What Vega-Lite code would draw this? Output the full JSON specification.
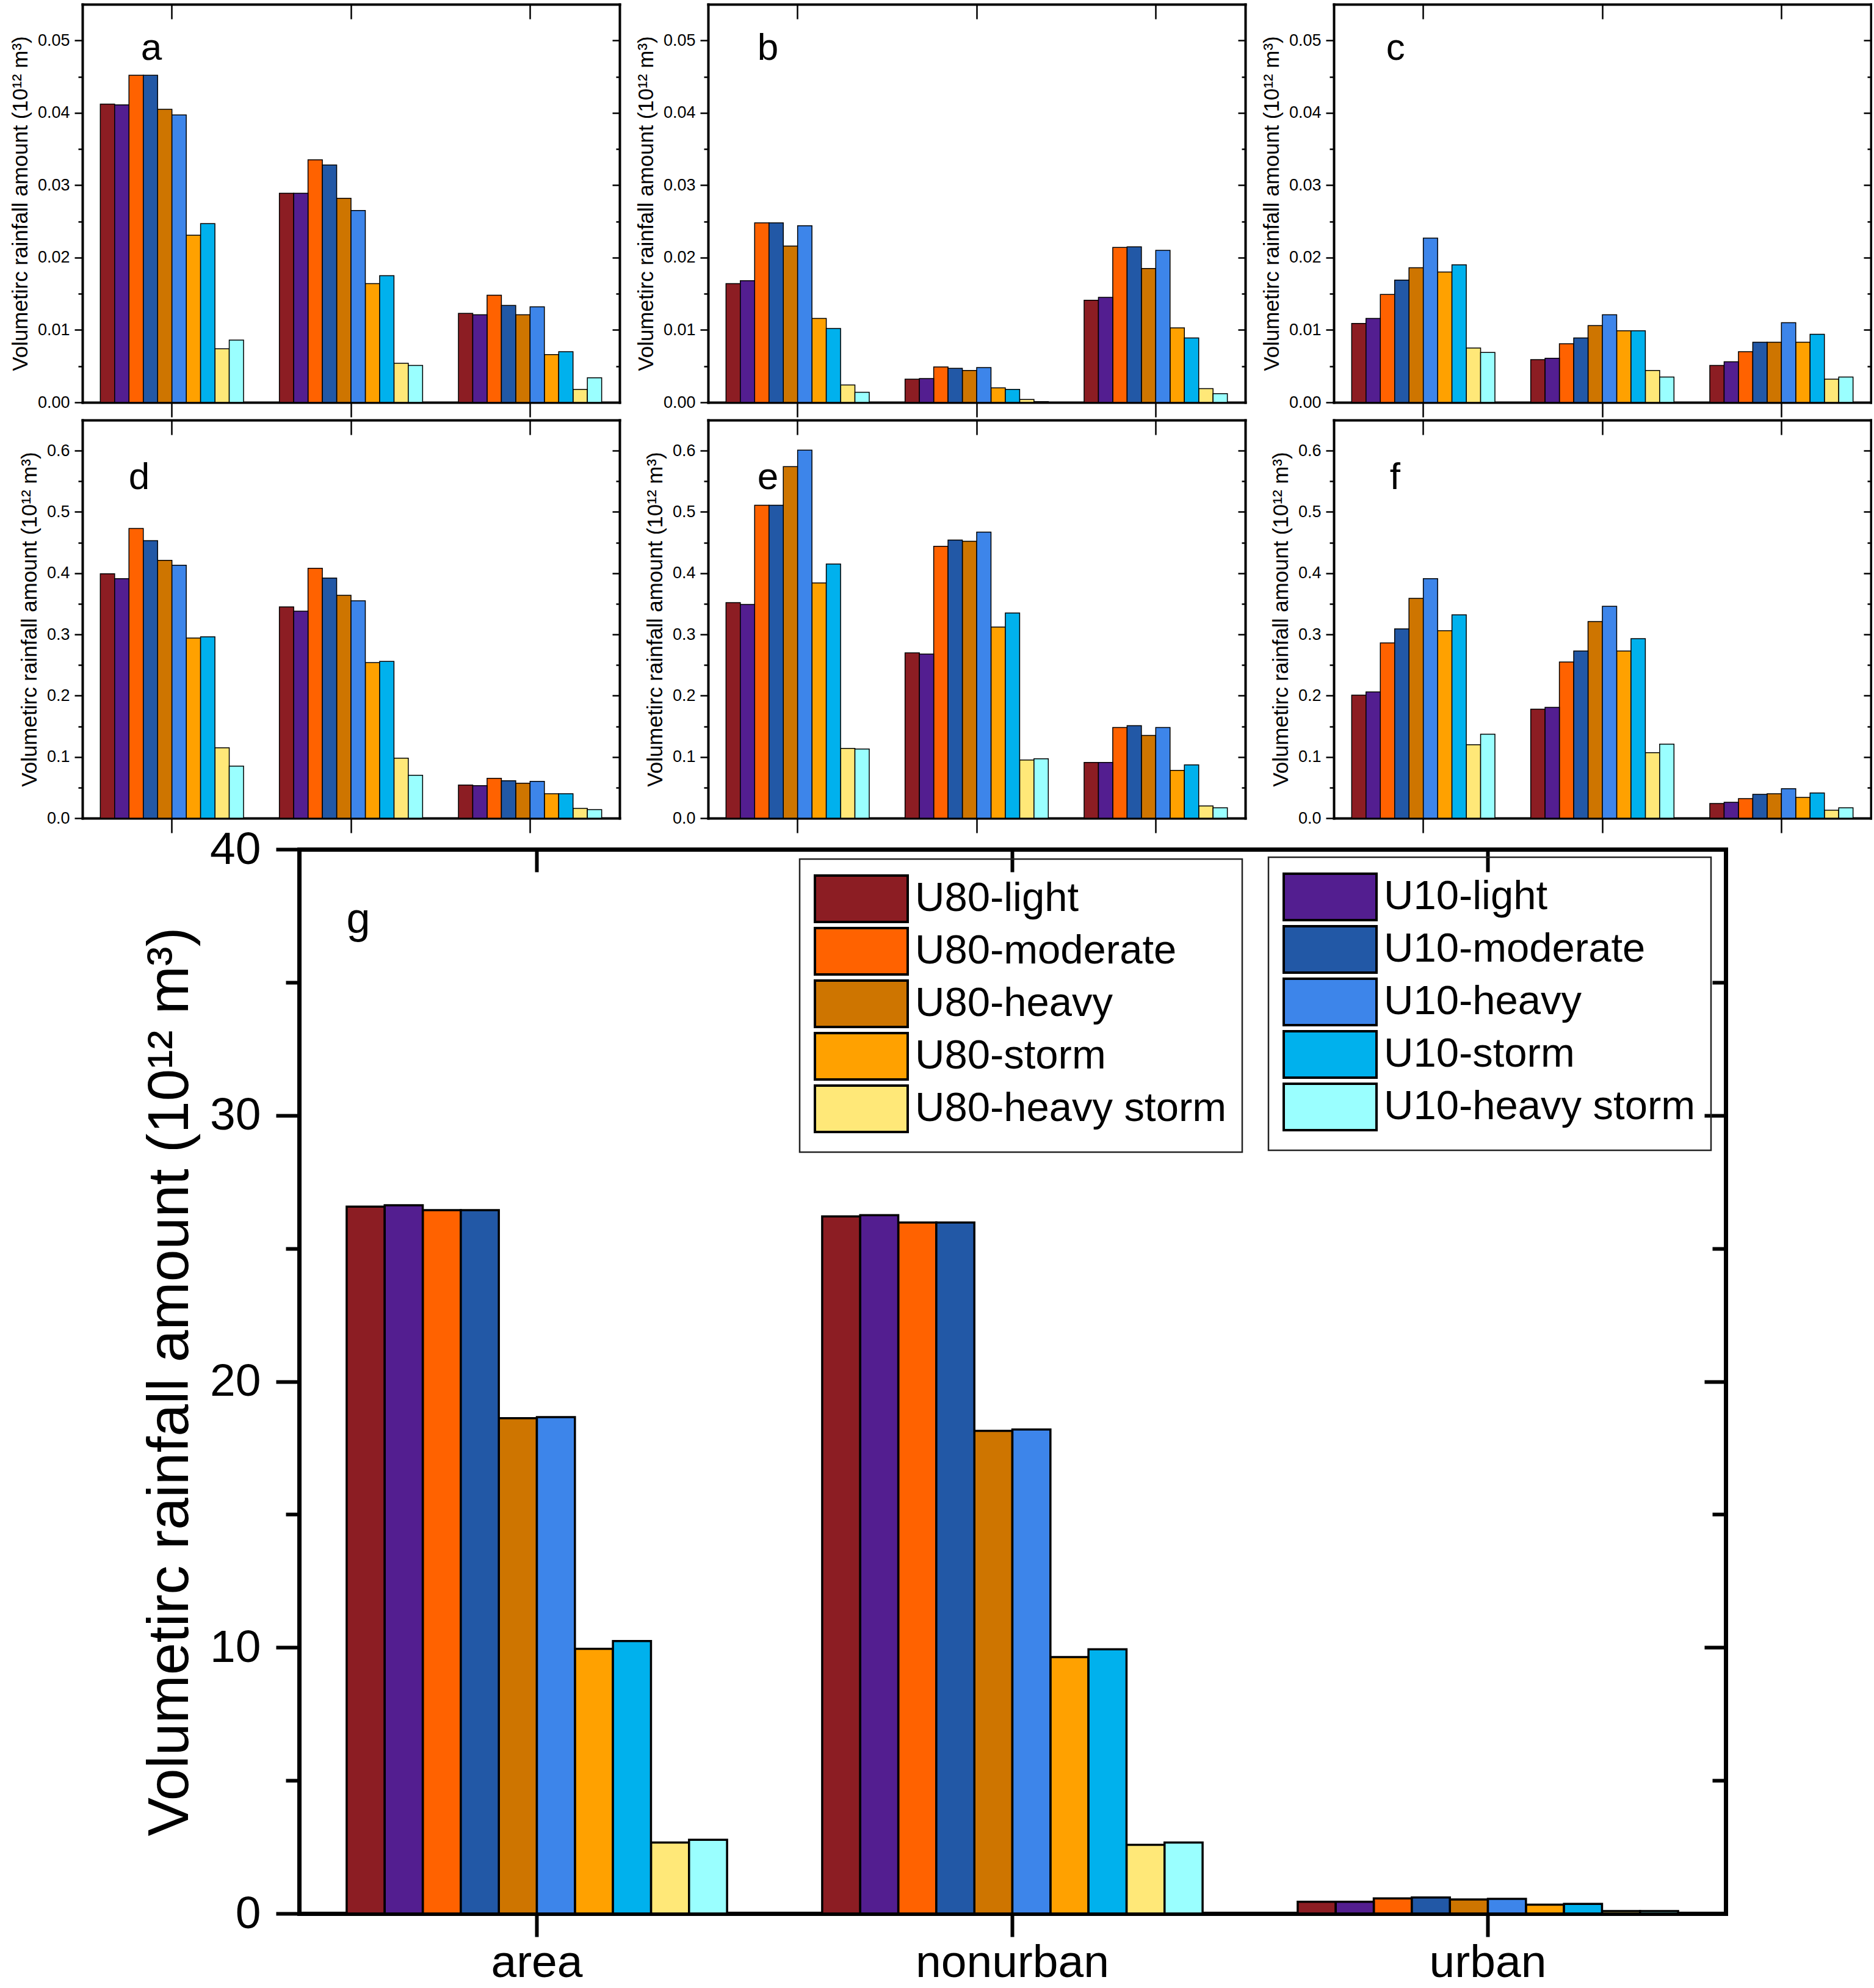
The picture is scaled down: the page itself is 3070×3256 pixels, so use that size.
{
  "$schema": "https://vega.github.io/schema/vega-lite/v6.json",
  "padding": {"left": 16, "top": 5, "right": 0, "bottom": 0},
  "background": "white",
  "config": {
    "view": {"stroke": null},
    "font": "Liberation Sans",
    "axis": {"labelFont": "Liberation Sans", "titleFont": "Liberation Sans", "grid": false, "domainColor": "black", "tickColor": "black", "labelColor": "black", "titleColor": "black", "titleFontWeight": "normal", "domainCap": "square"},
    "legend": {"labelFont": "Liberation Sans", "labelColor": "black", "strokeWidth": 2.5},
    "text": {"font": "Liberation Sans", "color": "black", "align": "left", "baseline": "alphabetic"}
  },
  "data": {"values": [
    {"panel":"a","region":"area","series":"U80-light","value":0.0412},
    {"panel":"a","region":"area","series":"U10-light","value":0.0411},
    {"panel":"a","region":"area","series":"U80-moderate","value":0.0452},
    {"panel":"a","region":"area","series":"U10-moderate","value":0.0452},
    {"panel":"a","region":"area","series":"U80-heavy","value":0.0405},
    {"panel":"a","region":"area","series":"U10-heavy","value":0.0397},
    {"panel":"a","region":"area","series":"U80-storm","value":0.0231},
    {"panel":"a","region":"area","series":"U10-storm","value":0.0247},
    {"panel":"a","region":"area","series":"U80-heavy storm","value":0.0074},
    {"panel":"a","region":"area","series":"U10-heavy storm","value":0.0086},
    {"panel":"a","region":"nonurban","series":"U80-light","value":0.0289},
    {"panel":"a","region":"nonurban","series":"U10-light","value":0.0289},
    {"panel":"a","region":"nonurban","series":"U80-moderate","value":0.0335},
    {"panel":"a","region":"nonurban","series":"U10-moderate","value":0.0328},
    {"panel":"a","region":"nonurban","series":"U80-heavy","value":0.0282},
    {"panel":"a","region":"nonurban","series":"U10-heavy","value":0.0265},
    {"panel":"a","region":"nonurban","series":"U80-storm","value":0.0164},
    {"panel":"a","region":"nonurban","series":"U10-storm","value":0.0175},
    {"panel":"a","region":"nonurban","series":"U80-heavy storm","value":0.0054},
    {"panel":"a","region":"nonurban","series":"U10-heavy storm","value":0.0051},
    {"panel":"a","region":"urban","series":"U80-light","value":0.0123},
    {"panel":"a","region":"urban","series":"U10-light","value":0.0121},
    {"panel":"a","region":"urban","series":"U80-moderate","value":0.0148},
    {"panel":"a","region":"urban","series":"U10-moderate","value":0.0134},
    {"panel":"a","region":"urban","series":"U80-heavy","value":0.0121},
    {"panel":"a","region":"urban","series":"U10-heavy","value":0.0132},
    {"panel":"a","region":"urban","series":"U80-storm","value":0.0066},
    {"panel":"a","region":"urban","series":"U10-storm","value":0.0070},
    {"panel":"a","region":"urban","series":"U80-heavy storm","value":0.0018},
    {"panel":"a","region":"urban","series":"U10-heavy storm","value":0.0034},
    {"panel":"b","region":"area","series":"U80-light","value":0.0164},
    {"panel":"b","region":"area","series":"U10-light","value":0.0168},
    {"panel":"b","region":"area","series":"U80-moderate","value":0.0248},
    {"panel":"b","region":"area","series":"U10-moderate","value":0.0248},
    {"panel":"b","region":"area","series":"U80-heavy","value":0.0216},
    {"panel":"b","region":"area","series":"U10-heavy","value":0.0244},
    {"panel":"b","region":"area","series":"U80-storm","value":0.0116},
    {"panel":"b","region":"area","series":"U10-storm","value":0.0102},
    {"panel":"b","region":"area","series":"U80-heavy storm","value":0.0024},
    {"panel":"b","region":"area","series":"U10-heavy storm","value":0.0014},
    {"panel":"b","region":"nonurban","series":"U80-light","value":0.0032},
    {"panel":"b","region":"nonurban","series":"U10-light","value":0.0033},
    {"panel":"b","region":"nonurban","series":"U80-moderate","value":0.0049},
    {"panel":"b","region":"nonurban","series":"U10-moderate","value":0.0047},
    {"panel":"b","region":"nonurban","series":"U80-heavy","value":0.0044},
    {"panel":"b","region":"nonurban","series":"U10-heavy","value":0.0048},
    {"panel":"b","region":"nonurban","series":"U80-storm","value":0.0020},
    {"panel":"b","region":"nonurban","series":"U10-storm","value":0.0018},
    {"panel":"b","region":"nonurban","series":"U80-heavy storm","value":0.0004},
    {"panel":"b","region":"nonurban","series":"U10-heavy storm","value":0.0001},
    {"panel":"b","region":"urban","series":"U80-light","value":0.0141},
    {"panel":"b","region":"urban","series":"U10-light","value":0.0145},
    {"panel":"b","region":"urban","series":"U80-moderate","value":0.0214},
    {"panel":"b","region":"urban","series":"U10-moderate","value":0.0215},
    {"panel":"b","region":"urban","series":"U80-heavy","value":0.0185},
    {"panel":"b","region":"urban","series":"U10-heavy","value":0.0210},
    {"panel":"b","region":"urban","series":"U80-storm","value":0.0103},
    {"panel":"b","region":"urban","series":"U10-storm","value":0.0089},
    {"panel":"b","region":"urban","series":"U80-heavy storm","value":0.0019},
    {"panel":"b","region":"urban","series":"U10-heavy storm","value":0.0012},
    {"panel":"c","region":"area","series":"U80-light","value":0.0109},
    {"panel":"c","region":"area","series":"U10-light","value":0.0116},
    {"panel":"c","region":"area","series":"U80-moderate","value":0.0149},
    {"panel":"c","region":"area","series":"U10-moderate","value":0.0169},
    {"panel":"c","region":"area","series":"U80-heavy","value":0.0186},
    {"panel":"c","region":"area","series":"U10-heavy","value":0.0227},
    {"panel":"c","region":"area","series":"U80-storm","value":0.0180},
    {"panel":"c","region":"area","series":"U10-storm","value":0.0190},
    {"panel":"c","region":"area","series":"U80-heavy storm","value":0.0075},
    {"panel":"c","region":"area","series":"U10-heavy storm","value":0.0069},
    {"panel":"c","region":"nonurban","series":"U80-light","value":0.0059},
    {"panel":"c","region":"nonurban","series":"U10-light","value":0.0061},
    {"panel":"c","region":"nonurban","series":"U80-moderate","value":0.0081},
    {"panel":"c","region":"nonurban","series":"U10-moderate","value":0.0089},
    {"panel":"c","region":"nonurban","series":"U80-heavy","value":0.0106},
    {"panel":"c","region":"nonurban","series":"U10-heavy","value":0.0121},
    {"panel":"c","region":"nonurban","series":"U80-storm","value":0.0099},
    {"panel":"c","region":"nonurban","series":"U10-storm","value":0.0099},
    {"panel":"c","region":"nonurban","series":"U80-heavy storm","value":0.0044},
    {"panel":"c","region":"nonurban","series":"U10-heavy storm","value":0.0035},
    {"panel":"c","region":"urban","series":"U80-light","value":0.0051},
    {"panel":"c","region":"urban","series":"U10-light","value":0.0056},
    {"panel":"c","region":"urban","series":"U80-moderate","value":0.0070},
    {"panel":"c","region":"urban","series":"U10-moderate","value":0.0083},
    {"panel":"c","region":"urban","series":"U80-heavy","value":0.0083},
    {"panel":"c","region":"urban","series":"U10-heavy","value":0.0110},
    {"panel":"c","region":"urban","series":"U80-storm","value":0.0083},
    {"panel":"c","region":"urban","series":"U10-storm","value":0.0094},
    {"panel":"c","region":"urban","series":"U80-heavy storm","value":0.0032},
    {"panel":"c","region":"urban","series":"U10-heavy storm","value":0.0035},
    {"panel":"d","region":"area","series":"U80-light","value":0.399},
    {"panel":"d","region":"area","series":"U10-light","value":0.391},
    {"panel":"d","region":"area","series":"U80-moderate","value":0.473},
    {"panel":"d","region":"area","series":"U10-moderate","value":0.453},
    {"panel":"d","region":"area","series":"U80-heavy","value":0.421},
    {"panel":"d","region":"area","series":"U10-heavy","value":0.413},
    {"panel":"d","region":"area","series":"U80-storm","value":0.294},
    {"panel":"d","region":"area","series":"U10-storm","value":0.296},
    {"panel":"d","region":"area","series":"U80-heavy storm","value":0.115},
    {"panel":"d","region":"area","series":"U10-heavy storm","value":0.085},
    {"panel":"d","region":"nonurban","series":"U80-light","value":0.345},
    {"panel":"d","region":"nonurban","series":"U10-light","value":0.338},
    {"panel":"d","region":"nonurban","series":"U80-moderate","value":0.408},
    {"panel":"d","region":"nonurban","series":"U10-moderate","value":0.392},
    {"panel":"d","region":"nonurban","series":"U80-heavy","value":0.364},
    {"panel":"d","region":"nonurban","series":"U10-heavy","value":0.355},
    {"panel":"d","region":"nonurban","series":"U80-storm","value":0.254},
    {"panel":"d","region":"nonurban","series":"U10-storm","value":0.256},
    {"panel":"d","region":"nonurban","series":"U80-heavy storm","value":0.098},
    {"panel":"d","region":"nonurban","series":"U10-heavy storm","value":0.070},
    {"panel":"d","region":"urban","series":"U80-light","value":0.054},
    {"panel":"d","region":"urban","series":"U10-light","value":0.053},
    {"panel":"d","region":"urban","series":"U80-moderate","value":0.065},
    {"panel":"d","region":"urban","series":"U10-moderate","value":0.061},
    {"panel":"d","region":"urban","series":"U80-heavy","value":0.057},
    {"panel":"d","region":"urban","series":"U10-heavy","value":0.060},
    {"panel":"d","region":"urban","series":"U80-storm","value":0.040},
    {"panel":"d","region":"urban","series":"U10-storm","value":0.040},
    {"panel":"d","region":"urban","series":"U80-heavy storm","value":0.016},
    {"panel":"d","region":"urban","series":"U10-heavy storm","value":0.014},
    {"panel":"e","region":"area","series":"U80-light","value":0.352},
    {"panel":"e","region":"area","series":"U10-light","value":0.349},
    {"panel":"e","region":"area","series":"U80-moderate","value":0.511},
    {"panel":"e","region":"area","series":"U10-moderate","value":0.511},
    {"panel":"e","region":"area","series":"U80-heavy","value":0.574},
    {"panel":"e","region":"area","series":"U10-heavy","value":0.601},
    {"panel":"e","region":"area","series":"U80-storm","value":0.384},
    {"panel":"e","region":"area","series":"U10-storm","value":0.415},
    {"panel":"e","region":"area","series":"U80-heavy storm","value":0.114},
    {"panel":"e","region":"area","series":"U10-heavy storm","value":0.113},
    {"panel":"e","region":"nonurban","series":"U80-light","value":0.270},
    {"panel":"e","region":"nonurban","series":"U10-light","value":0.268},
    {"panel":"e","region":"nonurban","series":"U80-moderate","value":0.444},
    {"panel":"e","region":"nonurban","series":"U10-moderate","value":0.454},
    {"panel":"e","region":"nonurban","series":"U80-heavy","value":0.452},
    {"panel":"e","region":"nonurban","series":"U10-heavy","value":0.467},
    {"panel":"e","region":"nonurban","series":"U80-storm","value":0.312},
    {"panel":"e","region":"nonurban","series":"U10-storm","value":0.335},
    {"panel":"e","region":"nonurban","series":"U80-heavy storm","value":0.095},
    {"panel":"e","region":"nonurban","series":"U10-heavy storm","value":0.097},
    {"panel":"e","region":"urban","series":"U80-light","value":0.091},
    {"panel":"e","region":"urban","series":"U10-light","value":0.091},
    {"panel":"e","region":"urban","series":"U80-moderate","value":0.148},
    {"panel":"e","region":"urban","series":"U10-moderate","value":0.151},
    {"panel":"e","region":"urban","series":"U80-heavy","value":0.135},
    {"panel":"e","region":"urban","series":"U10-heavy","value":0.148},
    {"panel":"e","region":"urban","series":"U80-storm","value":0.078},
    {"panel":"e","region":"urban","series":"U10-storm","value":0.087},
    {"panel":"e","region":"urban","series":"U80-heavy storm","value":0.020},
    {"panel":"e","region":"urban","series":"U10-heavy storm","value":0.017},
    {"panel":"f","region":"area","series":"U80-light","value":0.201},
    {"panel":"f","region":"area","series":"U10-light","value":0.206},
    {"panel":"f","region":"area","series":"U80-moderate","value":0.286},
    {"panel":"f","region":"area","series":"U10-moderate","value":0.309},
    {"panel":"f","region":"area","series":"U80-heavy","value":0.359},
    {"panel":"f","region":"area","series":"U10-heavy","value":0.391},
    {"panel":"f","region":"area","series":"U80-storm","value":0.306},
    {"panel":"f","region":"area","series":"U10-storm","value":0.332},
    {"panel":"f","region":"area","series":"U80-heavy storm","value":0.120},
    {"panel":"f","region":"area","series":"U10-heavy storm","value":0.137},
    {"panel":"f","region":"nonurban","series":"U80-light","value":0.178},
    {"panel":"f","region":"nonurban","series":"U10-light","value":0.181},
    {"panel":"f","region":"nonurban","series":"U80-moderate","value":0.255},
    {"panel":"f","region":"nonurban","series":"U10-moderate","value":0.273},
    {"panel":"f","region":"nonurban","series":"U80-heavy","value":0.321},
    {"panel":"f","region":"nonurban","series":"U10-heavy","value":0.346},
    {"panel":"f","region":"nonurban","series":"U80-storm","value":0.273},
    {"panel":"f","region":"nonurban","series":"U10-storm","value":0.293},
    {"panel":"f","region":"nonurban","series":"U80-heavy storm","value":0.107},
    {"panel":"f","region":"nonurban","series":"U10-heavy storm","value":0.121},
    {"panel":"f","region":"urban","series":"U80-light","value":0.024},
    {"panel":"f","region":"urban","series":"U10-light","value":0.026},
    {"panel":"f","region":"urban","series":"U80-moderate","value":0.032},
    {"panel":"f","region":"urban","series":"U10-moderate","value":0.039},
    {"panel":"f","region":"urban","series":"U80-heavy","value":0.040},
    {"panel":"f","region":"urban","series":"U10-heavy","value":0.048},
    {"panel":"f","region":"urban","series":"U80-storm","value":0.034},
    {"panel":"f","region":"urban","series":"U10-storm","value":0.041},
    {"panel":"f","region":"urban","series":"U80-heavy storm","value":0.013},
    {"panel":"f","region":"urban","series":"U10-heavy storm","value":0.017},
    {"panel":"g","region":"area","series":"U80-light","value":26.57},
    {"panel":"g","region":"area","series":"U10-light","value":26.62},
    {"panel":"g","region":"area","series":"U80-moderate","value":26.44},
    {"panel":"g","region":"area","series":"U10-moderate","value":26.44},
    {"panel":"g","region":"area","series":"U80-heavy","value":18.62},
    {"panel":"g","region":"area","series":"U10-heavy","value":18.66},
    {"panel":"g","region":"area","series":"U80-storm","value":9.95},
    {"panel":"g","region":"area","series":"U10-storm","value":10.24},
    {"panel":"g","region":"area","series":"U80-heavy storm","value":2.67},
    {"panel":"g","region":"area","series":"U10-heavy storm","value":2.77},
    {"panel":"g","region":"nonurban","series":"U80-light","value":26.2},
    {"panel":"g","region":"nonurban","series":"U10-light","value":26.25},
    {"panel":"g","region":"nonurban","series":"U80-moderate","value":25.97},
    {"panel":"g","region":"nonurban","series":"U10-moderate","value":25.97},
    {"panel":"g","region":"nonurban","series":"U80-heavy","value":18.14},
    {"panel":"g","region":"nonurban","series":"U10-heavy","value":18.19},
    {"panel":"g","region":"nonurban","series":"U80-storm","value":9.64},
    {"panel":"g","region":"nonurban","series":"U10-storm","value":9.93},
    {"panel":"g","region":"nonurban","series":"U80-heavy storm","value":2.58},
    {"panel":"g","region":"nonurban","series":"U10-heavy storm","value":2.67},
    {"panel":"g","region":"urban","series":"U80-light","value":0.44},
    {"panel":"g","region":"urban","series":"U10-light","value":0.44},
    {"panel":"g","region":"urban","series":"U80-moderate","value":0.57},
    {"panel":"g","region":"urban","series":"U10-moderate","value":0.6},
    {"panel":"g","region":"urban","series":"U80-heavy","value":0.53},
    {"panel":"g","region":"urban","series":"U10-heavy","value":0.55},
    {"panel":"g","region":"urban","series":"U80-storm","value":0.33},
    {"panel":"g","region":"urban","series":"U10-storm","value":0.36},
    {"panel":"g","region":"urban","series":"U80-heavy storm","value":0.09},
    {"panel":"g","region":"urban","series":"U10-heavy storm","value":0.09}
  ]},
  "spacing": -12,
  "resolve": {"scale": {"x": "independent", "y": "independent", "xOffset": "independent", "color": "independent"}},
  "vconcat": [
    {
      "columns": 3,
      "bounds": "flush",
      "spacing": {"row": 29, "column": 145},
      "resolve": {"scale": {"x": "independent", "y": "independent", "xOffset": "independent", "color": "independent"}},
      "concat": [
        {
          "width": 880, "height": 652,
          "transform": [{"filter": "datum.panel == 'a'"}],
          "layer": [
            {
              "transform": [{"filter": "indexof(datum.series, 'U80') == 0"}],
              "mark": {"type": "bar", "stroke": "black", "strokeWidth": 1.5},
              "encoding": {
                "x": {"field": "region", "type": "nominal", "sort": ["area","nonurban","urban"], "scale": {"paddingInner": 0.2, "paddingOuter": 0.1}, "axis": {"orient": "bottom", "labels": false, "title": null, "tickSize": 24, "tickWidth": 2.5, "domainWidth": 4}},
                "xOffset": {"field": "series", "type": "nominal", "scale": {"domain": ["U80-light","U10-light","U80-moderate","U10-moderate","U80-heavy","U10-heavy","U80-storm","U10-storm","U80-heavy storm","U10-heavy storm"], "paddingInner": 0, "paddingOuter": 0}},
                "y": {"field": "value", "type": "quantitative", "scale": {"domain": [0, 0.055], "nice": false}, "axis": {"orient": "left", "values": [0,0.005,0.01,0.015,0.02,0.025,0.03,0.035,0.04,0.045,0.05], "labelExpr": "round(datum.value*200) % 2 == 0 ? format(datum.value, '.2f') : ''", "tickSize": {"condition": {"test": "round(datum.value*200) % 2 == 0", "value": 13}, "value": 7}, "tickWidth": 2.5, "domainWidth": 4, "labelFontSize": 27, "labelPadding": 8, "title": "Volumetirc rainfall amount (10¹² m³)", "titleFontSize": 35, "titlePadding": 10}},
                "color": {"field": "series", "type": "nominal", "scale": {"domain": ["U80-light","U80-moderate","U80-heavy","U80-storm","U80-heavy storm"], "range": ["#8C1D23","#FF6200","#CE7500","#FFA100","#FFE878"]}, "legend": null}
              }
            },
            {
              "transform": [{"filter": "indexof(datum.series, 'U10') == 0"}],
              "mark": {"type": "bar", "stroke": "black", "strokeWidth": 1.5},
              "encoding": {
                "x": {"field": "region", "type": "nominal", "sort": ["area","nonurban","urban"], "axis": {"orient": "top", "labels": false, "title": null, "tickSize": -24, "tickWidth": 2.5, "domainWidth": 4}},
                "xOffset": {"field": "series", "type": "nominal"},
                "y": {"field": "value", "type": "quantitative", "axis": {"orient": "right", "values": [0,0.005,0.01,0.015,0.02,0.025,0.03,0.035,0.04,0.045,0.05], "labels": false, "title": null, "tickSize": {"condition": {"test": "round(datum.value*200) % 2 == 0", "value": -12}, "value": -6}, "tickWidth": 2.5, "domainWidth": 4}},
                "color": {"field": "series", "type": "nominal", "scale": {"domain": ["U10-light","U10-moderate","U10-heavy","U10-storm","U10-heavy storm"], "range": ["#531E90","#2258A6","#3D85EA","#00B1ED","#9AFFFF"]}, "legend": null}
              }
            },
            {
              "transform": [{"filter": "datum.series == 'U80-light' && datum.region == 'area'"}],
              "mark": {"type": "text", "text": "a", "fontSize": 62, "dx": -51},
              "encoding": {"x": {"datum": "area", "type": "nominal", "axis": null}, "y": {"datum": 0.0473, "type": "quantitative", "axis": null}}
            }
          ],
          "resolve": {"scale": {"color": "independent"}, "axis": {"x": "independent", "y": "independent"}}
        },
        {
          "width": 880, "height": 652,
          "transform": [{"filter": "datum.panel == 'b'"}],
          "layer": [
            {
              "transform": [{"filter": "indexof(datum.series, 'U80') == 0"}],
              "mark": {"type": "bar", "stroke": "black", "strokeWidth": 1.5},
              "encoding": {
                "x": {"field": "region", "type": "nominal", "sort": ["area","nonurban","urban"], "scale": {"paddingInner": 0.2, "paddingOuter": 0.1}, "axis": {"orient": "bottom", "labels": false, "title": null, "tickSize": 24, "tickWidth": 2.5, "domainWidth": 4}},
                "xOffset": {"field": "series", "type": "nominal", "scale": {"domain": ["U80-light","U10-light","U80-moderate","U10-moderate","U80-heavy","U10-heavy","U80-storm","U10-storm","U80-heavy storm","U10-heavy storm"], "paddingInner": 0, "paddingOuter": 0}},
                "y": {"field": "value", "type": "quantitative", "scale": {"domain": [0, 0.055], "nice": false}, "axis": {"orient": "left", "values": [0,0.005,0.01,0.015,0.02,0.025,0.03,0.035,0.04,0.045,0.05], "labelExpr": "round(datum.value*200) % 2 == 0 ? format(datum.value, '.2f') : ''", "tickSize": {"condition": {"test": "round(datum.value*200) % 2 == 0", "value": 13}, "value": 7}, "tickWidth": 2.5, "domainWidth": 4, "labelFontSize": 27, "labelPadding": 8, "title": "Volumetirc rainfall amount (10¹² m³)", "titleFontSize": 35, "titlePadding": 10}},
                "color": {"field": "series", "type": "nominal", "scale": {"domain": ["U80-light","U80-moderate","U80-heavy","U80-storm","U80-heavy storm"], "range": ["#8C1D23","#FF6200","#CE7500","#FFA100","#FFE878"]}, "legend": null}
              }
            },
            {
              "transform": [{"filter": "indexof(datum.series, 'U10') == 0"}],
              "mark": {"type": "bar", "stroke": "black", "strokeWidth": 1.5},
              "encoding": {
                "x": {"field": "region", "type": "nominal", "sort": ["area","nonurban","urban"], "axis": {"orient": "top", "labels": false, "title": null, "tickSize": -24, "tickWidth": 2.5, "domainWidth": 4}},
                "xOffset": {"field": "series", "type": "nominal"},
                "y": {"field": "value", "type": "quantitative", "axis": {"orient": "right", "values": [0,0.005,0.01,0.015,0.02,0.025,0.03,0.035,0.04,0.045,0.05], "labels": false, "title": null, "tickSize": {"condition": {"test": "round(datum.value*200) % 2 == 0", "value": -12}, "value": -6}, "tickWidth": 2.5, "domainWidth": 4}},
                "color": {"field": "series", "type": "nominal", "scale": {"domain": ["U10-light","U10-moderate","U10-heavy","U10-storm","U10-heavy storm"], "range": ["#531E90","#2258A6","#3D85EA","#00B1ED","#9AFFFF"]}, "legend": null}
              }
            },
            {
              "transform": [{"filter": "datum.series == 'U80-light' && datum.region == 'area'"}],
              "mark": {"type": "text", "text": "b", "fontSize": 62, "dx": -66},
              "encoding": {"x": {"datum": "area", "type": "nominal", "axis": null}, "y": {"datum": 0.0473, "type": "quantitative", "axis": null}}
            }
          ],
          "resolve": {"scale": {"color": "independent"}, "axis": {"x": "independent", "y": "independent"}}
        },
        {
          "width": 880, "height": 652,
          "transform": [{"filter": "datum.panel == 'c'"}],
          "layer": [
            {
              "transform": [{"filter": "indexof(datum.series, 'U80') == 0"}],
              "mark": {"type": "bar", "stroke": "black", "strokeWidth": 1.5},
              "encoding": {
                "x": {"field": "region", "type": "nominal", "sort": ["area","nonurban","urban"], "scale": {"paddingInner": 0.2, "paddingOuter": 0.1}, "axis": {"orient": "bottom", "labels": false, "title": null, "tickSize": 24, "tickWidth": 2.5, "domainWidth": 4}},
                "xOffset": {"field": "series", "type": "nominal", "scale": {"domain": ["U80-light","U10-light","U80-moderate","U10-moderate","U80-heavy","U10-heavy","U80-storm","U10-storm","U80-heavy storm","U10-heavy storm"], "paddingInner": 0, "paddingOuter": 0}},
                "y": {"field": "value", "type": "quantitative", "scale": {"domain": [0, 0.055], "nice": false}, "axis": {"orient": "left", "values": [0,0.005,0.01,0.015,0.02,0.025,0.03,0.035,0.04,0.045,0.05], "labelExpr": "round(datum.value*200) % 2 == 0 ? format(datum.value, '.2f') : ''", "tickSize": {"condition": {"test": "round(datum.value*200) % 2 == 0", "value": 13}, "value": 7}, "tickWidth": 2.5, "domainWidth": 4, "labelFontSize": 27, "labelPadding": 8, "title": "Volumetirc rainfall amount (10¹² m³)", "titleFontSize": 35, "titlePadding": 10}},
                "color": {"field": "series", "type": "nominal", "scale": {"domain": ["U80-light","U80-moderate","U80-heavy","U80-storm","U80-heavy storm"], "range": ["#8C1D23","#FF6200","#CE7500","#FFA100","#FFE878"]}, "legend": null}
              }
            },
            {
              "transform": [{"filter": "indexof(datum.series, 'U10') == 0"}],
              "mark": {"type": "bar", "stroke": "black", "strokeWidth": 1.5},
              "encoding": {
                "x": {"field": "region", "type": "nominal", "sort": ["area","nonurban","urban"], "axis": {"orient": "top", "labels": false, "title": null, "tickSize": -24, "tickWidth": 2.5, "domainWidth": 4}},
                "xOffset": {"field": "series", "type": "nominal"},
                "y": {"field": "value", "type": "quantitative", "axis": {"orient": "right", "values": [0,0.005,0.01,0.015,0.02,0.025,0.03,0.035,0.04,0.045,0.05], "labels": false, "title": null, "tickSize": {"condition": {"test": "round(datum.value*200) % 2 == 0", "value": -12}, "value": -6}, "tickWidth": 2.5, "domainWidth": 4}},
                "color": {"field": "series", "type": "nominal", "scale": {"domain": ["U10-light","U10-moderate","U10-heavy","U10-storm","U10-heavy storm"], "range": ["#531E90","#2258A6","#3D85EA","#00B1ED","#9AFFFF"]}, "legend": null}
              }
            },
            {
              "transform": [{"filter": "datum.series == 'U80-light' && datum.region == 'area'"}],
              "mark": {"type": "text", "text": "c", "fontSize": 62, "dx": -61},
              "encoding": {"x": {"datum": "area", "type": "nominal", "axis": null}, "y": {"datum": 0.0473, "type": "quantitative", "axis": null}}
            }
          ],
          "resolve": {"scale": {"color": "independent"}, "axis": {"x": "independent", "y": "independent"}}
        },
        {
          "width": 880, "height": 652,
          "transform": [{"filter": "datum.panel == 'd'"}],
          "layer": [
            {
              "transform": [{"filter": "indexof(datum.series, 'U80') == 0"}],
              "mark": {"type": "bar", "stroke": "black", "strokeWidth": 1.5},
              "encoding": {
                "x": {"field": "region", "type": "nominal", "sort": ["area","nonurban","urban"], "scale": {"paddingInner": 0.2, "paddingOuter": 0.1}, "axis": {"orient": "bottom", "labels": false, "title": null, "tickSize": 24, "tickWidth": 2.5, "domainWidth": 4}},
                "xOffset": {"field": "series", "type": "nominal", "scale": {"domain": ["U80-light","U10-light","U80-moderate","U10-moderate","U80-heavy","U10-heavy","U80-storm","U10-storm","U80-heavy storm","U10-heavy storm"], "paddingInner": 0, "paddingOuter": 0}},
                "y": {"field": "value", "type": "quantitative", "scale": {"domain": [0, 0.65], "nice": false}, "axis": {"orient": "left", "values": [0,0.05,0.1,0.15,0.2,0.25,0.3,0.35,0.4,0.45,0.5,0.55,0.6], "labelExpr": "round(datum.value*20) % 2 == 0 ? format(datum.value, '.1f') : ''", "tickSize": {"condition": {"test": "round(datum.value*20) % 2 == 0", "value": 13}, "value": 7}, "tickWidth": 2.5, "domainWidth": 4, "labelFontSize": 27, "labelPadding": 8, "title": "Volumetirc rainfall amount (10¹² m³)", "titleFontSize": 35, "titlePadding": 10}},
                "color": {"field": "series", "type": "nominal", "scale": {"domain": ["U80-light","U80-moderate","U80-heavy","U80-storm","U80-heavy storm"], "range": ["#8C1D23","#FF6200","#CE7500","#FFA100","#FFE878"]}, "legend": null}
              }
            },
            {
              "transform": [{"filter": "indexof(datum.series, 'U10') == 0"}],
              "mark": {"type": "bar", "stroke": "black", "strokeWidth": 1.5},
              "encoding": {
                "x": {"field": "region", "type": "nominal", "sort": ["area","nonurban","urban"], "axis": {"orient": "top", "labels": false, "title": null, "tickSize": -24, "tickWidth": 2.5, "domainWidth": 4}},
                "xOffset": {"field": "series", "type": "nominal"},
                "y": {"field": "value", "type": "quantitative", "axis": {"orient": "right", "values": [0,0.05,0.1,0.15,0.2,0.25,0.3,0.35,0.4,0.45,0.5,0.55,0.6], "labels": false, "title": null, "tickSize": {"condition": {"test": "round(datum.value*20) % 2 == 0", "value": -12}, "value": -6}, "tickWidth": 2.5, "domainWidth": 4}},
                "color": {"field": "series", "type": "nominal", "scale": {"domain": ["U10-light","U10-moderate","U10-heavy","U10-storm","U10-heavy storm"], "range": ["#531E90","#2258A6","#3D85EA","#00B1ED","#9AFFFF"]}, "legend": null}
              }
            },
            {
              "transform": [{"filter": "datum.series == 'U80-light' && datum.region == 'area'"}],
              "mark": {"type": "text", "text": "d", "fontSize": 62, "dx": -71},
              "encoding": {"x": {"datum": "area", "type": "nominal", "axis": null}, "y": {"datum": 0.537, "type": "quantitative", "axis": null}}
            }
          ],
          "resolve": {"scale": {"color": "independent"}, "axis": {"x": "independent", "y": "independent"}}
        },
        {
          "width": 880, "height": 652,
          "transform": [{"filter": "datum.panel == 'e'"}],
          "layer": [
            {
              "transform": [{"filter": "indexof(datum.series, 'U80') == 0"}],
              "mark": {"type": "bar", "stroke": "black", "strokeWidth": 1.5},
              "encoding": {
                "x": {"field": "region", "type": "nominal", "sort": ["area","nonurban","urban"], "scale": {"paddingInner": 0.2, "paddingOuter": 0.1}, "axis": {"orient": "bottom", "labels": false, "title": null, "tickSize": 24, "tickWidth": 2.5, "domainWidth": 4}},
                "xOffset": {"field": "series", "type": "nominal", "scale": {"domain": ["U80-light","U10-light","U80-moderate","U10-moderate","U80-heavy","U10-heavy","U80-storm","U10-storm","U80-heavy storm","U10-heavy storm"], "paddingInner": 0, "paddingOuter": 0}},
                "y": {"field": "value", "type": "quantitative", "scale": {"domain": [0, 0.65], "nice": false}, "axis": {"orient": "left", "values": [0,0.05,0.1,0.15,0.2,0.25,0.3,0.35,0.4,0.45,0.5,0.55,0.6], "labelExpr": "round(datum.value*20) % 2 == 0 ? format(datum.value, '.1f') : ''", "tickSize": {"condition": {"test": "round(datum.value*20) % 2 == 0", "value": 13}, "value": 7}, "tickWidth": 2.5, "domainWidth": 4, "labelFontSize": 27, "labelPadding": 8, "title": "Volumetirc rainfall amount (10¹² m³)", "titleFontSize": 35, "titlePadding": 10}},
                "color": {"field": "series", "type": "nominal", "scale": {"domain": ["U80-light","U80-moderate","U80-heavy","U80-storm","U80-heavy storm"], "range": ["#8C1D23","#FF6200","#CE7500","#FFA100","#FFE878"]}, "legend": null}
              }
            },
            {
              "transform": [{"filter": "indexof(datum.series, 'U10') == 0"}],
              "mark": {"type": "bar", "stroke": "black", "strokeWidth": 1.5},
              "encoding": {
                "x": {"field": "region", "type": "nominal", "sort": ["area","nonurban","urban"], "axis": {"orient": "top", "labels": false, "title": null, "tickSize": -24, "tickWidth": 2.5, "domainWidth": 4}},
                "xOffset": {"field": "series", "type": "nominal"},
                "y": {"field": "value", "type": "quantitative", "axis": {"orient": "right", "values": [0,0.05,0.1,0.15,0.2,0.25,0.3,0.35,0.4,0.45,0.5,0.55,0.6], "labels": false, "title": null, "tickSize": {"condition": {"test": "round(datum.value*20) % 2 == 0", "value": -12}, "value": -6}, "tickWidth": 2.5, "domainWidth": 4}},
                "color": {"field": "series", "type": "nominal", "scale": {"domain": ["U10-light","U10-moderate","U10-heavy","U10-storm","U10-heavy storm"], "range": ["#531E90","#2258A6","#3D85EA","#00B1ED","#9AFFFF"]}, "legend": null}
              }
            },
            {
              "transform": [{"filter": "datum.series == 'U80-light' && datum.region == 'area'"}],
              "mark": {"type": "text", "text": "e", "fontSize": 62, "dx": -66},
              "encoding": {"x": {"datum": "area", "type": "nominal", "axis": null}, "y": {"datum": 0.537, "type": "quantitative", "axis": null}}
            }
          ],
          "resolve": {"scale": {"color": "independent"}, "axis": {"x": "independent", "y": "independent"}}
        },
        {
          "width": 880, "height": 652,
          "transform": [{"filter": "datum.panel == 'f'"}],
          "layer": [
            {
              "transform": [{"filter": "indexof(datum.series, 'U80') == 0"}],
              "mark": {"type": "bar", "stroke": "black", "strokeWidth": 1.5},
              "encoding": {
                "x": {"field": "region", "type": "nominal", "sort": ["area","nonurban","urban"], "scale": {"paddingInner": 0.2, "paddingOuter": 0.1}, "axis": {"orient": "bottom", "labels": false, "title": null, "tickSize": 24, "tickWidth": 2.5, "domainWidth": 4}},
                "xOffset": {"field": "series", "type": "nominal", "scale": {"domain": ["U80-light","U10-light","U80-moderate","U10-moderate","U80-heavy","U10-heavy","U80-storm","U10-storm","U80-heavy storm","U10-heavy storm"], "paddingInner": 0, "paddingOuter": 0}},
                "y": {"field": "value", "type": "quantitative", "scale": {"domain": [0, 0.65], "nice": false}, "axis": {"orient": "left", "values": [0,0.05,0.1,0.15,0.2,0.25,0.3,0.35,0.4,0.45,0.5,0.55,0.6], "labelExpr": "round(datum.value*20) % 2 == 0 ? format(datum.value, '.1f') : ''", "tickSize": {"condition": {"test": "round(datum.value*20) % 2 == 0", "value": 13}, "value": 7}, "tickWidth": 2.5, "domainWidth": 4, "labelFontSize": 27, "labelPadding": 8, "title": "Volumetirc rainfall amount (10¹² m³)", "titleFontSize": 35, "titlePadding": 10}},
                "color": {"field": "series", "type": "nominal", "scale": {"domain": ["U80-light","U80-moderate","U80-heavy","U80-storm","U80-heavy storm"], "range": ["#8C1D23","#FF6200","#CE7500","#FFA100","#FFE878"]}, "legend": null}
              }
            },
            {
              "transform": [{"filter": "indexof(datum.series, 'U10') == 0"}],
              "mark": {"type": "bar", "stroke": "black", "strokeWidth": 1.5},
              "encoding": {
                "x": {"field": "region", "type": "nominal", "sort": ["area","nonurban","urban"], "axis": {"orient": "top", "labels": false, "title": null, "tickSize": -24, "tickWidth": 2.5, "domainWidth": 4}},
                "xOffset": {"field": "series", "type": "nominal"},
                "y": {"field": "value", "type": "quantitative", "axis": {"orient": "right", "values": [0,0.05,0.1,0.15,0.2,0.25,0.3,0.35,0.4,0.45,0.5,0.55,0.6], "labels": false, "title": null, "tickSize": {"condition": {"test": "round(datum.value*20) % 2 == 0", "value": -12}, "value": -6}, "tickWidth": 2.5, "domainWidth": 4}},
                "color": {"field": "series", "type": "nominal", "scale": {"domain": ["U10-light","U10-moderate","U10-heavy","U10-storm","U10-heavy storm"], "range": ["#531E90","#2258A6","#3D85EA","#00B1ED","#9AFFFF"]}, "legend": null}
              }
            },
            {
              "transform": [{"filter": "datum.series == 'U80-light' && datum.region == 'area'"}],
              "mark": {"type": "text", "text": "f", "fontSize": 62, "dx": -55},
              "encoding": {"x": {"datum": "area", "type": "nominal", "axis": null}, "y": {"datum": 0.537, "type": "quantitative", "axis": null}}
            }
          ],
          "resolve": {"scale": {"color": "independent"}, "axis": {"x": "independent", "y": "independent"}}
        }
      ]
    },
    {
      "bounds": "flush",
      "spacing": 0,
      "resolve": {"scale": {"x": "independent", "y": "independent", "xOffset": "independent", "color": "independent"}},
      "hconcat": [
        {
          "width": 355, "height": 10,
          "view": {"fill": "white", "stroke": null},
          "data": {"values": [{"spacer": 1}]},
          "mark": {"type": "point", "opacity": 0}
        },
        {
          "width": 2337, "height": 1743,
          "transform": [{"filter": "datum.panel == 'g'"}],
          "layer": [
            {
              "transform": [{"filter": "indexof(datum.series, 'U80') == 0"}],
              "mark": {"type": "bar", "stroke": "black", "strokeWidth": 3.5},
              "encoding": {
                "x": {"field": "region", "type": "nominal", "sort": ["area","nonurban","urban"], "scale": {"paddingInner": 0.2, "paddingOuter": 0.1}, "axis": {"orient": "bottom", "labels": true, "labelAngle": 0, "labelFontSize": 75, "labelLimit": 0, "labelPadding": 6, "title": null, "tickSize": 38, "tickWidth": 6, "domainWidth": 7}},
                "xOffset": {"field": "series", "type": "nominal", "scale": {"domain": ["U80-light","U10-light","U80-moderate","U10-moderate","U80-heavy","U10-heavy","U80-storm","U10-storm","U80-heavy storm","U10-heavy storm"], "paddingInner": 0, "paddingOuter": 0}},
                "y": {"field": "value", "type": "quantitative", "scale": {"domain": [0, 40], "nice": false}, "axis": {"orient": "left", "values": [0,5,10,15,20,25,30,35,40], "labelExpr": "round(datum.value/5) % 2 == 0 ? datum.label : ''", "tickSize": {"condition": {"test": "round(datum.value/5) % 2 == 0", "value": 38}, "value": 22}, "tickWidth": 6, "domainWidth": 7, "labelFontSize": 75, "labelPadding": 25, "title": "Volumetirc rainfall amount (10¹² m³)", "titleFontSize": 95, "titlePadding": 16}},
                "color": {"field": "series", "type": "nominal", "scale": {"domain": ["U80-light","U80-moderate","U80-heavy","U80-storm","U80-heavy storm"], "range": ["#8C1D23","#FF6200","#CE7500","#FFA100","#FFE878"]}, "legend": {"orient": "none", "legendX": 820, "legendY": 16, "title": null, "symbolType": "M-2,-1H2V1H-2Z", "symbolSize": 5776, "symbolOffset": 36, "symbolStrokeColor": "black", "symbolStrokeWidth": 4, "labelFontSize": 67, "labelLimit": 0, "labelOffset": 48, "rowPadding": -12, "padding": 25, "strokeColor": "#222"}}
              }
            },
            {
              "transform": [{"filter": "indexof(datum.series, 'U10') == 0"}],
              "mark": {"type": "bar", "stroke": "black", "strokeWidth": 3.5},
              "encoding": {
                "x": {"field": "region", "type": "nominal", "sort": ["area","nonurban","urban"], "axis": {"orient": "top", "labels": false, "title": null, "tickSize": -37, "tickWidth": 6, "domainWidth": 7}},
                "xOffset": {"field": "series", "type": "nominal"},
                "y": {"field": "value", "type": "quantitative", "axis": {"orient": "right", "values": [0,5,10,15,20,25,30,35,40], "labels": false, "title": null, "tickSize": {"condition": {"test": "round(datum.value/5) % 2 == 0", "value": -35}, "value": -22}, "tickWidth": 6, "domainWidth": 7}},
                "color": {"field": "series", "type": "nominal", "scale": {"domain": ["U10-light","U10-moderate","U10-heavy","U10-storm","U10-heavy storm"], "range": ["#531E90","#2258A6","#3D85EA","#00B1ED","#9AFFFF"]}, "legend": {"orient": "none", "legendX": 1588, "legendY": 13, "title": null, "symbolType": "M-2,-1H2V1H-2Z", "symbolSize": 5776, "symbolOffset": 36, "symbolStrokeColor": "black", "symbolStrokeWidth": 4, "labelFontSize": 67, "labelLimit": 0, "labelOffset": 48, "rowPadding": -12, "padding": 25, "strokeColor": "#222"}}
              }
            },
            {
              "transform": [{"filter": "datum.series == 'U80-light' && datum.region == 'area'"}],
              "mark": {"type": "text", "text": "g", "fontSize": 70, "dx": -312},
              "encoding": {"x": {"datum": "area", "type": "nominal", "axis": null}, "y": {"datum": 36.86, "type": "quantitative", "axis": null}}
            }
          ],
          "resolve": {"scale": {"color": "independent"}, "axis": {"x": "independent", "y": "independent"}}
        }
      ]
    }
  ]
}
